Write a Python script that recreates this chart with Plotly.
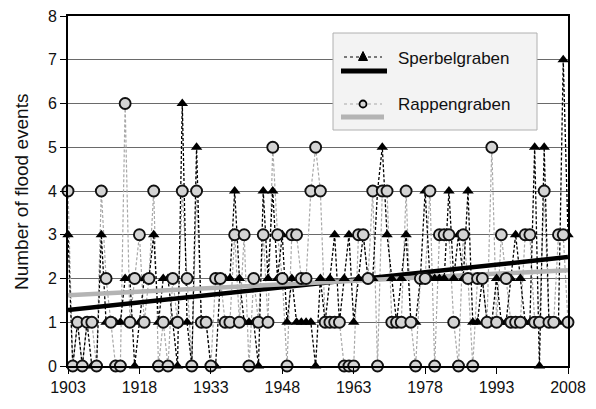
import plotly.graph_objects as go

years = list(range(1903, 2009))

sperbelgraben = [3, 0, 1, 0, 1, 0, 0, 3, 1, 1,
                 1, 1, 2, 2, 0, 1, 2, 2, 3, 1,
                 2, 2, 1, 0, 6, 1, 0, 5, 1, 1,
                 0, 0, 2, 2, 2, 4, 2, 1, 1, 1,
                 0, 4, 2, 4, 2, 3, 1, 2, 1, 1,
                 1, 1, 0, 2, 1, 2, 3, 1, 2, 3,
                 1, 2, 3, 2, 2, 4, 5, 3, 2, 1,
                 2, 3, 1, 1, 2, 4, 2, 2, 2, 2,
                 4, 2, 3, 2, 4, 1, 1, 2, 1, 1,
                 2, 1, 1, 2, 3, 2, 1, 1, 5, 0,
                 5, 1, 1, 1, 7, 3]

rappengraben = [4, 0, 1, 0, 1, 1, 0, 4, 2, 1,
                0, 0, 6, 1, 2, 3, 1, 2, 4, 0,
                1, 0, 2, 1, 4, 2, 0, 4, 1, 1,
                0, 2, 2, 1, 1, 3, 1, 3, 0, 2,
                1, 3, 1, 5, 3, 2, 0, 3, 3, 2,
                2, 4, 5, 4, 1, 1, 1, 1, 0, 0,
                0, 3, 3, 2, 4, 0, 4, 4, 1, 1,
                1, 4, 1, 0, 2, 2, 4, 0, 3, 3,
                3, 1, 0, 3, 2, 0, 2, 2, 1, 5,
                1, 3, 2, 1, 1, 1, 3, 3, 1, 1,
                4, 1, 1, 3, 3, 1]

trend_years = [1903, 2008]
sperbel_trend = [1.28, 2.49]
rappen_trend = [1.62, 2.19]

x_ticks = [1903, 1918, 1933, 1948, 1963, 1978, 1993, 2008]
y_ticks = list(range(0, 9))

FONT = "Liberation Sans, Arial, sans-serif"

fig = go.Figure()

fig.add_trace(go.Scatter(x=years, y=rappengraben, mode="lines",
                         line=dict(color="#a8a8a8", width=1.2, dash="3px,2px"),
                         hoverinfo="skip", showlegend=False, cliponaxis=False))
fig.add_trace(go.Scatter(x=years, y=sperbelgraben, mode="lines",
                         line=dict(color="black", width=1.3, dash="3px,2px"),
                         hoverinfo="skip", showlegend=False, cliponaxis=False))
fig.add_trace(go.Scatter(x=trend_years, y=sperbel_trend, mode="lines",
                         line=dict(color="black", width=4.5), showlegend=False))
fig.add_trace(go.Scatter(x=trend_years, y=rappen_trend, mode="lines",
                         line=dict(color="#b4b4b4", width=4.5), showlegend=False))
fig.add_trace(go.Scatter(x=years, y=sperbelgraben, mode="markers", name="Sperbelgraben",
                         marker=dict(symbol="triangle-up", size=10, color="black"),
                         showlegend=False, cliponaxis=False))
fig.add_trace(go.Scatter(x=years, y=rappengraben, mode="markers", name="Rappengraben",
                         marker=dict(symbol="circle", size=11, color="#d4d4d4",
                                     line=dict(color="#111", width=1.9)),
                         showlegend=False, cliponaxis=False))

# page pixel -> paper coordinates (plot area spans x 68..568, y 16..366 on the page)
def px(x):
    return (x - 68) / 500.0

def py(y):
    return (366 - y) / 350.0

shapes = [
    dict(type="rect", xref="paper", yref="paper", x0=px(333), x1=px(537), y0=py(130), y1=py(33),
         fillcolor="#f3f3f3", line=dict(color="#b0b0b0", width=1), layer="above"),
    dict(type="line", xref="paper", yref="paper", x0=px(344), x1=px(382), y0=py(57), y1=py(57),
         line=dict(color="black", width=1.2, dash="dot"), layer="above"),
    dict(type="path", xref="paper", yref="paper",
         path="M %f,%f L %f,%f L %f,%f Z" % (px(358.5), py(60.5), px(367.5), py(60.5), px(363), py(51.5)),
         fillcolor="black", line=dict(color="black", width=1), layer="above"),
    dict(type="line", xref="paper", yref="paper", x0=px(341), x1=px(387), y0=py(71), y1=py(71),
         line=dict(color="black", width=5), layer="above"),
    dict(type="line", xref="paper", yref="paper", x0=px(344), x1=px(382), y0=py(104), y1=py(104),
         line=dict(color="#a8a8a8", width=1.2, dash="dot"), layer="above"),
    dict(type="circle", xref="paper", yref="paper", x0=px(359.5), x1=px(366.5), y0=py(107.5), y1=py(100.5),
         fillcolor="#d4d4d4", line=dict(color="black", width=1.8), layer="above"),
    dict(type="line", xref="paper", yref="paper", x0=px(341), x1=px(384), y0=py(117), y1=py(117),
         line=dict(color="#b4b4b4", width=5), layer="above"),
]

annotations = [
    dict(text="Sperbelgraben", xref="paper", yref="paper", x=px(396), y=py(58),
         xanchor="left", yanchor="middle", showarrow=False,
         font=dict(family=FONT, size=17, color="#111")),
    dict(text="Rappengraben", xref="paper", yref="paper", x=px(396), y=py(104),
         xanchor="left", yanchor="middle", showarrow=False,
         font=dict(family=FONT, size=17, color="#111")),
    dict(text="Number of flood events", xref="paper", yref="paper", x=px(21), y=py(192),
         xanchor="center", yanchor="middle", textangle=-90, showarrow=False,
         font=dict(family=FONT, size=19, color="#111")),
]

# the page body has an 8px default margin, so the figure is drawn 8px in from the corner
fig.update_layout(
    width=588, height=401,
    margin=dict(l=60, r=28, t=8, b=43, autoexpand=False),
    paper_bgcolor="white", plot_bgcolor="white",
    font=dict(family=FONT, size=16, color="#111"),
    shapes=shapes, annotations=annotations,
    showlegend=False,
)
fig.update_xaxes(range=[1903, 2008], tickvals=x_ticks, ticktext=[str(v) for v in x_ticks],
                 automargin=False, ticklabeloverflow="allow",
                 showgrid=False, zeroline=False, showline=True, linecolor="black", linewidth=2,
                 mirror=True, ticks="outside", ticklen=6, tickcolor="black",
                 tickfont=dict(family=FONT, size=16, color="#111"))
fig.update_yaxes(range=[0, 8], tickvals=y_ticks, showgrid=True, gridcolor="#6a6a6a", gridwidth=1,
                 automargin=False, ticklabeloverflow="allow",
                 zeroline=False, showline=True, linecolor="black", linewidth=2, mirror=True,
                 ticks="outside", ticklen=6, tickcolor="black",
                 tickfont=dict(family=FONT, size=16, color="#111"))

fig.write_html("out.html")
